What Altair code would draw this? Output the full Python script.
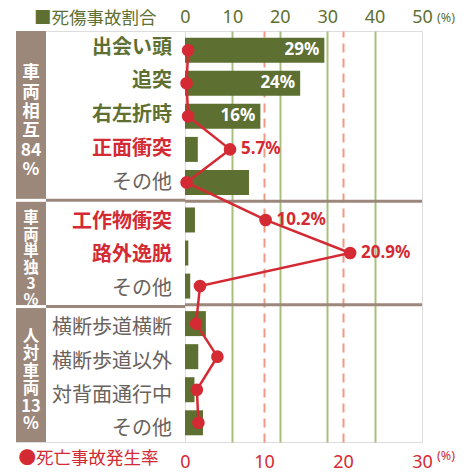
import altair as alt
import pandas as pd
import numpy as np

# ---------------- data ----------------
labels = ["出会い頭", "追突", "右左折時", "正面衝突", "その他",
          "工作物衝突", "路外逸脱", "その他",
          "横断歩道横断", "横断歩道以外", "対背面通行中", "その他"]
groups = [0, 0, 0, 0, 0, 1, 1, 1, 2, 2, 2, 2]
share = [29.4, 24.3, 15.9, 2.7, 13.5, 2.1, 0.7, 1.1, 4.4, 2.8, 2.0, 3.8]   # 死傷事故割合 (%)
fatal = [0.4, 0.2, 0.4, 5.7, 0.2, 10.2, 20.9, 1.9, 1.4, 4.1, 1.5, 1.7]     # 死亡事故発生率 (%)
group_names = ["車両相互", "車両単独", "人対車両"]
group_totals = [84, 3, 13]
share_ticks = [0, 10, 20, 30, 40, 50]
fatal_ticks = [0, 10, 20, 30]

# ---------------- style ----------------
OLIVE = "#5e7031"
RED = "#d42a33"
GRAY = "#6a625d"
BROWN = "#9c877b"
GRID_G = "#a9bf7c"
SALMON = "#ee9a85"
JP = "Noto Sans CJK JP"
LAT = "Noto Sans"
GAP = 0.135
PAD_ROW = 0.43
W_LEFT, W, H = 169, 237, 411

rows = pd.DataFrame({"idx": range(len(labels)), "label": labels, "grp": groups,
                     "share": share, "fatal": fatal})
rows["pos"] = rows["idx"] + GAP * rows["grp"]
rows["kind"] = np.where(rows["share"] >= 15, "share",
                        np.where(rows["fatal"] >= 5, "fatal", "other"))

first = rows.groupby("grp")["pos"].min()
last = rows.groupby("grp")["pos"].max()
ng = len(group_names)
lo = first.iloc[0] - PAD_ROW
hi = last.iloc[-1] + PAD_ROW
bounds = [(last[g] + first[g + 1]) / 2 for g in range(ng - 1)]
edges = [lo] + bounds + [hi]
band = pd.DataFrame({
    "grp": range(ng),
    "y0": edges[:-1], "y1": edges[1:],
    "text": ["\n".join(list(n)) + f"\n{t}\n%" for n, t in zip(group_names, group_totals)],
})
band["ymid"] = (band["y0"] + band["y1"]) / 2
seps = pd.DataFrame({"b": bounds})

yscale = alt.Scale(domain=[lo, hi], reverse=True, nice=False, zero=False)
Y = alt.Y("pos:Q", scale=yscale, axis=None)

# ---------------- left panel (group band + labels) ----------------
base_band = alt.Chart(band)
band_rect = base_band.mark_rect(color=BROWN).encode(
    x=alt.value(0), x2=alt.value(30),
    y=alt.Y("y0:Q", scale=yscale, axis=None), y2="y1:Q")
band_texts = []
for g, (fs, lh) in enumerate([(17.5, 19.3), (15.5, 16.4), (16.5, 17.5)]):
    nlines = band["text"][g].count("\n")
    band_texts.append(base_band.transform_filter(f"datum.grp == {g}").mark_text(
        color="white", font=JP, fontSize=fs, lineHeight=lh, lineBreak="\n",
        fontWeight="bold", align="center", baseline="middle",
        dy=-nlines * lh / 2 + 6).encode(
        x=alt.value(15), y=alt.Y("ymid:Q", scale=yscale, axis=None), text="text:N"))
sep_white = alt.Chart(seps).mark_rule(color="white", strokeWidth=3).encode(
    x=alt.value(0), x2=alt.value(30), y=alt.Y("b:Q", scale=yscale, axis=None))
sep_brown_l = alt.Chart(seps).mark_rule(color=BROWN, strokeWidth=3).encode(
    x=alt.value(30), x2=alt.value(W_LEFT), y=alt.Y("b:Q", scale=yscale, axis=None))

color_kind = alt.Color("kind:N", scale=alt.Scale(domain=["share", "fatal", "other"],
                                                 range=[OLIVE, RED, GRAY]), legend=None)
lab_bold = alt.Chart(rows).transform_filter("datum.kind != 'other'").mark_text(
    font=JP, fontSize=20, fontWeight="bold", align="right", baseline="middle", dy=2).encode(
    x=alt.value(156), y=Y, text="label:N", color=color_kind)
lab_norm = alt.Chart(rows).transform_filter("datum.kind == 'other'").mark_text(
    font=JP, fontSize=20, fontWeight="normal", align="right", baseline="middle", dy=2).encode(
    x=alt.value(156), y=Y, text="label:N", color=color_kind)

left = alt.layer(band_rect, sep_white, sep_brown_l, *band_texts, lab_bold, lab_norm).properties(
    width=W_LEFT, height=H)

# ---------------- right panel (bars + line) ----------------
top_axis = alt.Axis(
    orient="top", values=share_ticks, title="■死傷事故割合",
    titleX=-29, titleY=-13, titleAlign="right", titleBaseline="middle", titleAngle=0,
    titleColor=OLIVE, titleFont=JP, titleFontSize=17.5, titleFontWeight="normal",
    labelColor=OLIVE, labelFont=LAT, labelFontSize=18, labelPadding=5,
    labelFlush=False, labelOverlap=False, ticks=False, tickSize=0, domain=False,
    grid=True, gridColor=GRID_G, gridWidth=2,
    gridOpacity={"condition": {"test": "datum.value == 0 || datum.value == 50", "value": 0}, "value": 1})
bot_axis = alt.Axis(
    orient="bottom", values=fatal_ticks, title="●死亡事故発生率",
    titleX=-27, titleY=16, titleAlign="right", titleBaseline="middle", titleAngle=0,
    titleColor=RED, titleFont=JP, titleFontSize=17.5, titleFontWeight="normal",
    labelColor=RED, labelFont=LAT, labelFontSize=18, labelPadding=11,
    labelFlush=False, labelOverlap=False, ticks=False, tickSize=0, domain=False,
    grid=True, gridColor=SALMON, gridWidth=2, gridDash=[9, 6],
    gridOpacity={"condition": {"test": "datum.value == 0 || datum.value == 30", "value": 0}, "value": 1})

XS = alt.X("share:Q", scale=alt.Scale(domain=[0, 50], nice=False), axis=top_axis)
XF = alt.X("fatal:Q", scale=alt.Scale(domain=[0, 30], nice=False), axis=bot_axis)

bars = alt.Chart(rows).mark_bar(orient="horizontal", size=25, color=OLIVE).encode(x=XS, y=Y)
bar_lab = alt.Chart(rows).transform_filter("datum.share >= 15").transform_calculate(
    t="format(datum.share, '.0f') + '%'").mark_text(
    align="right", baseline="middle", dx=-5, color="white", font=LAT,
    fontSize=17, fontWeight="bold").encode(x=XS, y=Y, text="t:N")
sep_r = alt.Chart(seps).mark_rule(color=BROWN, strokeWidth=3).encode(
    y=alt.Y("b:Q", scale=yscale, axis=None))
unit_top = alt.Chart(rows).transform_filter("datum.idx == 0").mark_text(
    align="left", baseline="middle", dx=15, color=OLIVE, font=LAT, fontSize=12.5).encode(
    x=alt.datum(50), y=alt.value(-13), text=alt.value("(%)"))
layer_a = alt.layer(bars, bar_lab, sep_r, unit_top)

line = alt.Chart(rows).mark_line(color=RED, strokeWidth=2.5).encode(
    x=XF, y=Y, order=alt.Order("idx:Q"))
pts = alt.Chart(rows).mark_point(filled=True, size=160, color=RED, opacity=1).encode(x=XF, y=Y)
pt_lab = alt.Chart(rows).transform_filter("datum.fatal >= 5").transform_calculate(
    t="format(datum.fatal, '.1f') + '%'").mark_text(
    align="left", baseline="middle", dx=11, color=RED, font=LAT,
    fontSize=17, fontWeight="bold").encode(x=XF, y=Y, text="t:N")
unit_bot = alt.Chart(rows).transform_filter("datum.idx == 0").mark_text(
    align="left", baseline="middle", dx=15, color=RED, font=LAT, fontSize=12.5).encode(
    x=alt.datum(30), y=alt.value(H + 14), text=alt.value("(%)"))
layer_b = alt.layer(line, pts, pt_lab, unit_bot)

right = alt.layer(layer_a, layer_b).resolve_scale(x="independent").properties(width=W, height=H)

chart = alt.hconcat(left, right, spacing=0, bounds="flush").properties(
    padding={"left": 14, "top": 7, "right": 0, "bottom": 0}
).configure_view(stroke=BROWN, strokeWidth=3).configure(background="white")

chart.save("out.html", embed_options={"renderer": "svg", "actions": False})
